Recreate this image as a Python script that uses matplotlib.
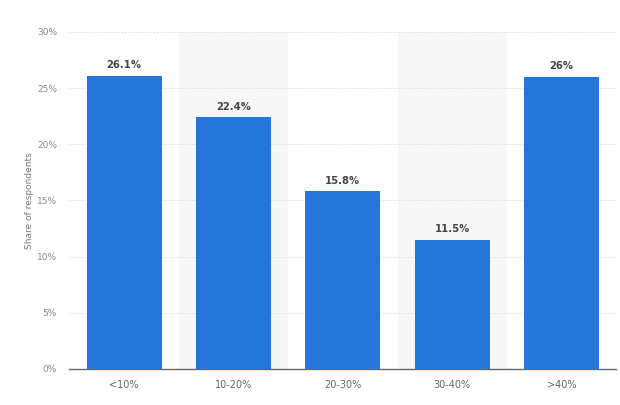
import matplotlib.pyplot as plt

# survey data
categories = ['<10%', '10-20%', '20-30%', '30-40%', '>40%']
shares = [26.1, 22.4, 15.8, 11.5, 26.0]
value_labels = ['26.1%', '22.4%', '15.8%', '11.5%', '26%']
y_ticks = [0, 5, 10, 15, 20, 25, 30]

fig = plt.figure(figsize=(6.2, 4.05), dpi=100)
ax = fig.add_axes([0.112, 0.089, 0.882, 0.832])

x = list(range(len(categories)))

# light shading behind every second column
for i in x:
    if i % 2 == 1:
        ax.axvspan(i - 0.5, i + 0.5, color='#f7f7f7', zorder=0, lw=0)

ax.bar(x, shares, width=0.685, color='#2576d9', zorder=3)

for xi, v, lab in zip(x, shares, value_labels):
    ax.text(xi, v + 0.5, lab, ha='center', va='bottom', fontsize=7.2,
            fontweight='bold', color='#444444', zorder=4)

ax.set_xlim(-0.5, len(categories) - 0.5)
ax.set_ylim(0, 30)
ax.set_yticks(y_ticks)
ax.set_yticklabels([f'{t}%' for t in y_ticks])
ax.set_xticks(x)
ax.set_xticklabels(categories)

ax.yaxis.grid(True, linestyle=(0, (1, 2)), color='#d0d0d0', linewidth=0.7, zorder=1)
ax.set_axisbelow(True)

for side in ['top', 'right', 'left']:
    ax.spines[side].set_visible(False)
ax.spines['bottom'].set_color('#666666')
ax.spines['bottom'].set_linewidth(1.0)

ax.tick_params(axis='y', length=0, labelsize=6.5, labelcolor='#888888', pad=9)
ax.tick_params(axis='x', length=0, labelsize=7, labelcolor='#666666', pad=8)

ax.set_ylabel('Share of respondents', fontsize=6.5, color='#777777', labelpad=2)

fig.savefig('out.png', dpi=100)
